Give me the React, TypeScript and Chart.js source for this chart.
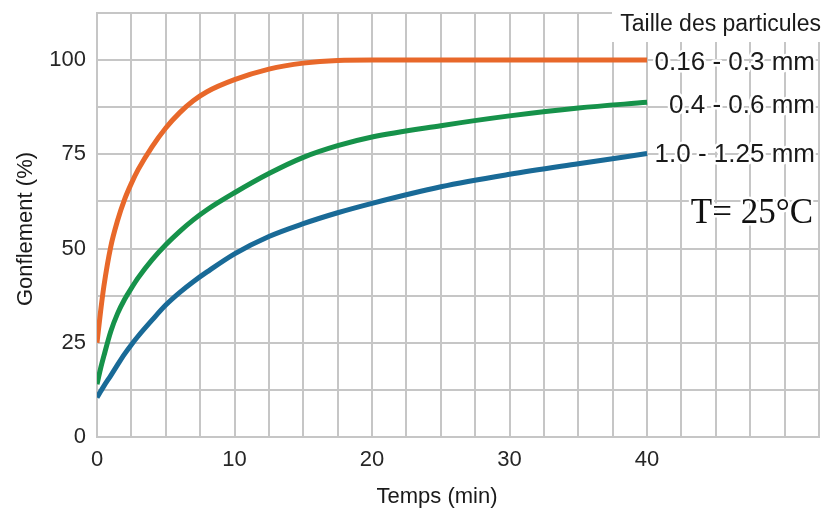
import React, { useEffect, useRef } from "react";
import { Chart, registerables } from "chart.js";

Chart.register(...registerables);

const times = [0, 0.25, 0.5, 1, 1.5, 2, 2.5, 3, 4, 5, 6, 7, 8, 10, 12.5, 15, 17.5, 20, 25, 30, 35, 40];
const fine = [25, 33, 40, 50.5, 57.5, 63, 67.3, 71, 77, 82, 86, 89.2, 91.6, 94.8, 97.6, 99.2, 99.9, 100, 100, 100, 100, 100];
const medium = [14, 18, 21.5, 28, 32.8, 36.5, 39.5, 42.3, 47, 51, 54.5, 57.6, 60.3, 64.8, 69.9, 74.2, 77.3, 79.6, 82.6, 85.2, 87.3, 88.8];
const coarse = [10.5, 12, 13.5, 16.3, 19.2, 22, 24.5, 26.8, 31, 35, 38.3, 41.2, 43.8, 48.6, 53.2, 56.6, 59.5, 62, 66.4, 69.7, 72.5, 75.2];
const seriesLabels = ["0.16 - 0.3 mm", "0.4 - 0.6 mm", "1.0 - 1.25 mm"];
const xTickLabels = [0, 10, 20, 30, 40];
const yTickLabels = [0, 25, 50, 75, 100];

const colors = ["#e8682a", "#16924a", "#196a97"];

const textPlugin = {
  id: "textPlugin",
  afterDraw(chart: any) {
    const ctx = chart.ctx as CanvasRenderingContext2D;
    ctx.save();
    ctx.fillStyle = "#ffffff";
    ctx.fillRect(612, 0, 212, 42);
    ctx.fillStyle = "#1a1a1a";
    ctx.font = "23px 'Liberation Sans', Arial, sans-serif";
    ctx.textAlign = "right";
    ctx.textBaseline = "alphabetic";
    ctx.fillText("Taille des particules", 821, 31);

    const ys = [70, 113, 162];
    ctx.font = "26px 'Liberation Sans', Arial, sans-serif";
    seriesLabels.forEach((s, i) => {
      ctx.lineWidth = 5;
      ctx.strokeStyle = "#ffffff";
      ctx.lineJoin = "round";
      ctx.strokeText(s, 815, ys[i]);
      ctx.fillStyle = "#1a1a1a";
      ctx.fillText(s, 815, ys[i]);
    });

    ctx.font = "35px 'Liberation Serif', 'Times New Roman', serif";
    ctx.strokeText("T= 25°C", 813, 223);
    ctx.fillStyle = "#111111";
    ctx.fillText("T= 25°C", 813, 223);

    ctx.fillStyle = "#1a1a1a";
    ctx.font = "22px 'Liberation Sans', Arial, sans-serif";
    ctx.textAlign = "center";
    ctx.textBaseline = "alphabetic";
    ctx.fillText("Temps (min)", 437, 503);

    ctx.translate(32, 229);
    ctx.rotate(-Math.PI / 2);
    ctx.fillText("Gonflement (%)", 0, 0);
    ctx.restore();
  },
};

export default function App() {
  const ref = useRef<HTMLCanvasElement>(null);
  useEffect(() => {
    document.body.style.margin = "0";
    const mk = (vals: number[]) => times.map((t, i) => ({ x: t, y: vals[i] }));
    const chart = new Chart(ref.current!, {
      type: "line",
      data: {
        datasets: [fine, medium, coarse].map((v, i) => ({
          label: seriesLabels[i],
          data: mk(v),
          borderColor: colors[i],
          borderWidth: 5,
          pointRadius: 0,
          fill: false,
          cubicInterpolationMode: "monotone" as const,
        })),
      },
      options: {
        animation: false,
        responsive: false,
        layout: { padding: { top: 13, right: 5, left: 0, bottom: 0 } },
        plugins: { legend: { display: false }, tooltip: { enabled: false } },
        scales: {
          x: {
            type: "linear",
            min: 0,
            max: 52.5,
            afterFit: (s: any) => {
              s.height = 75;
              s.paddingLeft = 0;
              s.paddingRight = 0;
            },
            ticks: {
              stepSize: 2.5,
              autoSkip: false,
              maxRotation: 0,
              padding: 10,
              color: "#262626",
              font: { size: 22, family: "'Liberation Sans', Arial, sans-serif" },
              callback: (v: any) => (xTickLabels.includes(Number(v)) ? String(v) : ""),
            },
            grid: { color: "#c6c6c6", lineWidth: 2, drawTicks: false },
            border: { color: "#c6c6c6", width: 2 },
          },
          y: {
            type: "linear",
            min: 0,
            max: 112.5,
            afterFit: (s: any) => {
              s.width = 97;
              s.paddingTop = 0;
              s.paddingBottom = 0;
            },
            ticks: {
              stepSize: 12.5,
              autoSkip: false,
              padding: 11,
              color: "#262626",
              font: { size: 22, family: "'Liberation Sans', Arial, sans-serif" },
              callback: (v: any) => (yTickLabels.includes(Number(v)) ? String(v) : ""),
            },
            grid: { color: "#c6c6c6", lineWidth: 2, drawTicks: false },
            border: { color: "#c6c6c6", width: 2 },
          },
        },
      },
      plugins: [textPlugin],
    });
    return () => chart.destroy();
  }, []);
  return (
    <div style={{ width: 824, height: 512, background: "#fff" }}>
      <canvas ref={ref} width={824} height={512} />
    </div>
  );
}
